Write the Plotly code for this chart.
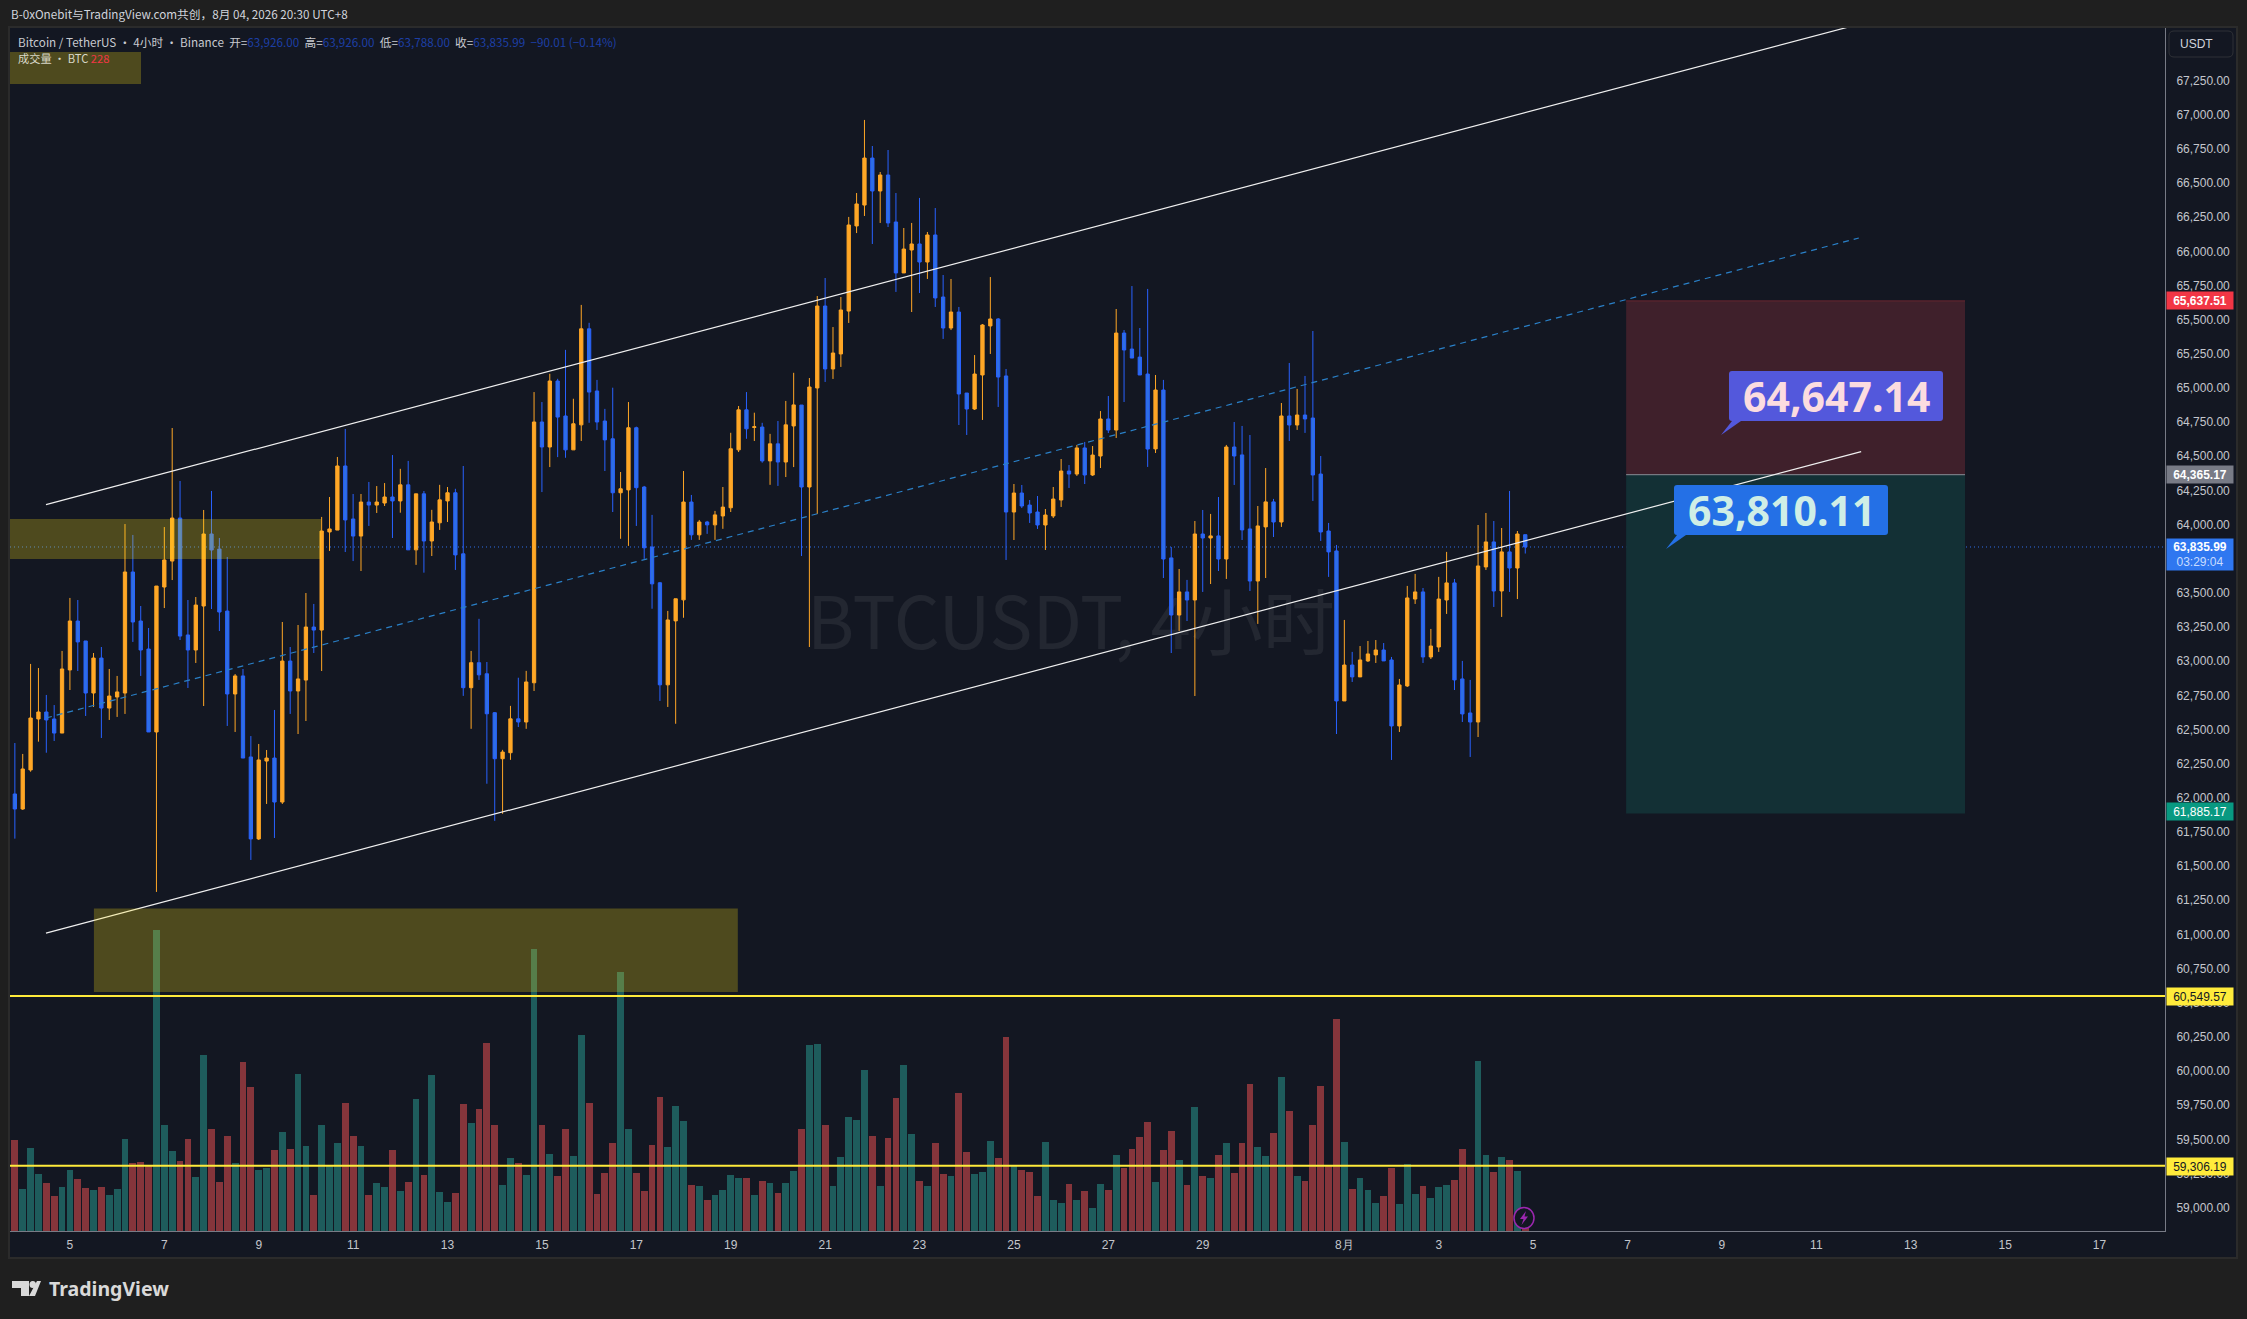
import pandas as pd
import plotly.graph_objects as go

# 4h candles, first bar 07-03 20:00 (UTC+8)
opens = [62028,61918,62204,62577,62628,62577,62474,62936,63294,63148,62767,63023,62657,62738,62767,63653,63294,63089,62482,63543,
         63733,64048,63192,63082,63404,63931,63821,63367,62760,62892,62299,61699,62269,62291,61969,63001,62782,62862,63250,63228,
         63946,63960,64429,64041,63916,64165,64143,64158,64202,64173,64291,63815,64225,63880,64013,64173,64233,63786,62806,62989,
         62908,62623,62286,62330,62578,62555,62842,64751,64568,65051,64795,64547,64730,65433,64978,64758,64628,64233,64254,64709,
         64275,63836,63574,62827,63295,63449,64165,63925,64019,63998,64063,64123,64547,64840,64711,64714,64466,64591,64458,64722,
         64875,64275,65000,65600,65139,65249,65563,66186,66339,66683,66442,66559,66215,65842,66010,66054,65922,66120,65666,65439,
         65556,64963,64846,65095,65454,65505,65088,64092,64231,64143,64092,63997,64063,64180,64392,64370,64561,64363,64502,64773,
         64692,65402,65285,65226,65102,64554,64985,63756,63338,63507,63448,63931,63902,63917,63748,64568,64510,63968,63587,63983,
         64166,64019,64795,64729,64802,64780,64370,63953,63807,62709,62972,62885,63002,63046,63082,63009,62526,62819,63455,63507,
         63031,63104,63448,63573,62870,62621,62555,63690,63873,63514,63800,63682,63926]
highs = [62401,62321,62980,62950,62753,62679,63075,63463,63448,63148,63060,63104,62943,62892,64004,63924,63404,63243,63550,63982,
         64707,64319,63448,63470,64107,64246,63902,63763,62906,62943,62452,62394,62350,62643,63287,63104,63265,63499,63419,64056,
         64202,64495,64700,64224,64224,64312,64282,64304,64509,64408,64466,64225,64246,64108,64291,64275,64262,64429,63075,63310,
         62994,62628,62351,62673,62879,62929,64970,64897,65104,65067,65279,64921,65608,65477,65059,64847,65002,64385,64897,64717,
         64283,64071,63580,63368,63457,64392,64217,64034,64027,64100,64275,64672,64868,64970,64819,64745,64664,64758,64905,65111,
         64875,65073,65673,65805,65446,65666,66252,66427,66962,66771,66581,66742,66427,66171,66208,66391,66142,66317,65827,65798,
         65593,64963,65241,65468,65812,65512,65139,64297,64290,64180,64209,64114,64275,64480,64436,64583,64605,64575,64831,64941,
         65578,65424,65746,65439,65725,65095,65059,63836,63675,63595,64026,64107,64078,64202,64583,64751,64722,64656,64136,64414,
         64188,64890,65183,64993,65088,65417,64502,64012,63851,63302,63068,63111,63148,63155,63133,63031,62870,63551,63639,63536,
         63236,63617,63800,63602,63002,62863,63997,64085,64026,63975,64246,63953,63926]
lows = [61701,61911,62191,62411,62330,62416,62474,62789,62928,62599,62665,62438,62570,62592,62614,63141,62892,62482,61311,63389,
        63594,63155,62804,62987,62672,63382,63221,62526,62482,62291,61545,61691,61955,61706,61955,62614,62467,62562,63060,62928,
        63807,63960,63799,63733,63660,63990,64085,64136,63902,64087,63815,63705,63648,63770,63961,64019,63668,62746,62505,62863,
        62103,61831,61883,62278,62518,62505,62782,64238,64421,64494,64489,64547,64612,64745,64693,64392,64092,63896,63844,63990,
        63749,63384,62709,62665,62542,63318,63888,63888,63932,63888,63969,64092,64531,64628,64612,64453,64291,64283,64348,64421,
        63770,63104,64078,65044,65066,65154,65476,66134,66259,66054,66208,66178,65703,65842,65556,65695,65798,65593,65359,65424,
        64729,64656,64839,64766,65249,64861,63741,63887,64121,64012,63968,63814,64048,64129,64268,64356,64297,64356,64414,64670,
        64634,64897,65219,65095,64422,64524,63609,63060,63221,63294,62745,63507,63565,63660,63602,64290,63887,63514,63273,63609,
        63909,63983,64612,64693,64671,64173,63880,63617,62467,62709,62848,62885,62994,62987,63002,62277,62482,62811,63419,62987,
        63016,63068,63346,62789,62555,62299,62445,63668,63397,63324,63507,63455,63788]
closes = [61918,62211,62584,62628,62570,62474,62943,63294,63141,62767,63023,62657,62745,62775,63653,63287,63082,62482,63550,63741,
          64048,63184,63082,63411,63931,63814,63360,62760,62892,62291,61699,62277,62291,61969,63001,62782,62870,63250,63228,63953,
          63968,64429,64034,63916,64165,64143,64165,64202,64173,64291,63815,64225,63880,64019,64181,64233,63778,62806,62989,62900,
          62615,62286,62335,62578,62555,62848,64751,64568,65051,64787,64547,64738,65433,64970,64751,64620,64233,64262,64709,64270,
          63830,63566,62827,63302,63457,64165,63925,64019,63998,64071,64128,64555,64840,64701,64716,64466,64591,64458,64730,64876,
          64275,65007,65600,65139,65256,65571,66193,66347,66683,66442,66559,66208,65842,66017,66054,65922,66120,65659,65439,65556,
          64956,64846,65102,65461,65505,65080,64092,64231,64136,64085,63997,64070,64187,64392,64370,64561,64363,64509,64773,64692,
          65402,65278,65219,65095,64553,64985,63748,63338,63507,63448,63931,63902,63917,63748,64568,64502,63961,63587,63990,64166,
          64019,64795,64729,64802,64773,64363,63946,63800,62709,62972,62885,63009,63053,63082,63002,62526,62826,63463,63507,63031,
          63111,63455,63573,62863,62614,62555,63697,63873,63514,63800,63682,63931,63835.99]
volumes = [7734,3570,7054,4844,4080,2975,3740,5184,4420,3655,3485,3740,3060,3570,7819,5779,5864,5609,25585,9009,
           6799,5949,7819,4589,14958,8669,4165,8074,5779,14363,12239,5184,5354,6884,8414,6969,13343,7224,3060,9009,
           5524,7479,10879,8074,7224,3060,4080,3740,6884,3400,4165,11219,4760,13258,3315,2465,3230,10794,9179,10369,
           15978,9009,3910,6204,5779,4760,23970,9009,6544,4675,8669,6374,16658,10879,3145,4929,7479,22015,8669,4929,
           3400,7309,11389,7139,10624,9349,3910,3825,2635,3060,3485,4760,4505,4505,3060,4250,4080,3230,4080,5099,
           8669,15808,15893,9009,3825,6289,9689,9434,13683,8074,3825,7904,11304,14108,8244,4250,3825,7479,4844,4675,
           11729,6714,4844,5014,7649,6204,16488,5524,5184,5014,2975,7564,2635,2380,3995,2635,3400,1955,3995,3485,
           6459,5354,6969,7989,9264,4165,6884,8499,6034,3910,10539,4675,4505,6459,7479,4929,7479,12494,7139,6374,
           8329,13088,10199,4675,4250,9009,12324,5524,18018,7564,3570,4505,3485,2380,2975,5354,2295,5694,3145,3825,
           2805,3740,3910,4335,6969,5524,14448,6459,5014,6289,6034,5099,228]
bar_times = pd.date_range("2026-07-03 20:00", periods=len(opens), freq="4h")

price_ticks = list(range(59000, 67251, 250))
date_ticks = ["2026-07-%02d" % d for d in range(5, 30, 2)] + ["2026-08-01"] + ["2026-08-%02d" % d for d in range(3, 18, 2)]
date_labels = [str(d) for d in range(5, 30, 2)] + ["8月"] + [str(d) for d in range(3, 18, 2)]

upper_x, upper_y = ["2026-07-04 11:50", "2026-08-12 13:30"], [64146, 67723]
mid_x, mid_y = ["2026-07-04 11:50", "2026-08-11 21:36"], [62584, 66098]
lower_x, lower_y = ["2026-07-04 11:50", "2026-08-11 22:48"], [61010, 64534]

last_price = 63835.99
target_price, entry_price, stop_price = 65637.51, 64365.17, 61885.17
level_a, level_b = 60549.57, 59306.19

FONT = "Liberation Sans"
BG = "#131722"
ORANGE = "#ffa726"
BLUE = "#2e6fe4"
YELLOW = "#ffeb3b"
TICK = "#c4c6cc"
LEFT_EDGE = "2026-07-03 17:32"


def px(x):  # page pixels to paper coordinates
    return (x - 10) / 2155


def py(y):
    return (1231 - y) / 1203


def box_path(x0, y0, x1, y1, r=3):
    a, b, c, d = px(x0), px(x1), py(y0), py(y1)
    rx, ry = r / 2155, r / 1203
    return (f"M {a+rx} {c} L {b-rx} {c} Q {b} {c} {b} {c-ry} L {b} {d+ry} Q {b} {d} {b-rx} {d} "
            f"L {a+rx} {d} Q {a} {d} {a} {d+ry} L {a} {c-ry} Q {a} {c} {a+rx} {c} Z")


def poly(points):
    return "M " + " L ".join(f"{px(x)} {py(y)}" for x, y in points) + " Z"


fig = go.Figure()

fig.add_trace(go.Bar(x=bar_times, y=volumes, width=4 * 3600 * 1000 * 0.86,
                     marker=dict(color=["#1e5c5c" if c >= o else "#85353b" for o, c in zip(opens, closes)], line_width=0),
                     xaxis="x", yaxis="y"))
fig.add_trace(go.Scatter(x=["2026-07-26 05:00"], y=[51000], mode="text", text=["BTCUSDT, 4小时"],
                         textfont=dict(family="Noto Sans CJK SC", size=72, color="rgba(255,255,255,0.07)"),
                         xaxis="x", yaxis="y"))
fig.add_trace(go.Candlestick(x=bar_times, open=opens, high=highs, low=lows, close=closes, xaxis="x", yaxis="y2",
                             increasing=dict(line=dict(color=ORANGE, width=1), fillcolor=ORANGE),
                             decreasing=dict(line=dict(color="#2962ff", width=1), fillcolor=BLUE),
                             whiskerwidth=0))
fig.add_trace(go.Scatter(x=upper_x, y=upper_y, mode="lines", line=dict(color="#f0f0f0", width=1.2), xaxis="x", yaxis="y2"))
fig.add_trace(go.Scatter(x=lower_x, y=lower_y, mode="lines", line=dict(color="#f0f0f0", width=1.2), xaxis="x", yaxis="y2"))
fig.add_trace(go.Scatter(x=mid_x, y=mid_y, mode="lines", line=dict(color="#2a80c8", width=1.2, dash="6px,5px"), xaxis="x", yaxis="y2"))

shapes = [
    # pane behind the plot and the two axes
    dict(type="rect", xref="paper", yref="paper", x0=px(9), x1=px(2237), y0=py(1258), y1=py(27), fillcolor=BG,
         line=dict(color="#2b2b2b", width=2), layer="below"),
    # position tool
    dict(type="rect", xref="x", yref="y2", x0="2026-08-06 23:17", x1="2026-08-14 03:36", y0=entry_price, y1=target_price,
         fillcolor="#3f202b", line_width=0, layer="below"),
    dict(type="rect", xref="x", yref="y2", x0="2026-08-06 23:17", x1="2026-08-14 03:36", y0=stop_price, y1=entry_price,
         fillcolor="#133035", line_width=0, layer="below"),
    dict(type="line", xref="x", yref="y2", x0="2026-08-06 23:17", x1="2026-08-14 03:36", y0=target_price, y1=target_price,
         line=dict(color="#6b2530", width=1), layer="below"),
    dict(type="line", xref="x", yref="y2", x0="2026-08-06 23:17", x1="2026-08-14 03:36", y0=entry_price, y1=entry_price,
         line=dict(color="#8b8d96", width=1), layer="below"),
    dict(type="line", xref="paper", yref="y2", x0=0, x1=1, y0=last_price, y1=last_price,
         line=dict(color="#2f6fe8", width=1, dash="1px,3px"), layer="below"),
    # yellow zones sit over the candles
    dict(type="rect", xref="x", yref="y2", x0=LEFT_EDGE, x1="2026-07-10 07:40", y0=63748, y1=64041,
         fillcolor="rgba(255,228,20,0.25)", line_width=0),
    dict(type="rect", xref="x", yref="y2", x0="2026-07-05 12:12", x1="2026-07-19 03:36", y0=60579, y1=61189,
         fillcolor="rgba(255,228,20,0.25)", line_width=0),
    dict(type="rect", xref="x", yref="y2", x0=LEFT_EDGE, x1="2026-07-06 12:09", y0=67225, y1=67459,
         fillcolor="rgba(255,228,20,0.25)", line_width=0),
    dict(type="line", xref="paper", yref="y2", x0=0, x1=1, y0=level_a, y1=level_a, line=dict(color=YELLOW, width=2)),
    dict(type="line", xref="paper", yref="y2", x0=0, x1=1, y0=level_b, y1=level_b, line=dict(color=YELLOW, width=2)),
    # price bubbles
    dict(type="path", xref="paper", yref="paper", path=box_path(1729, 371, 1943, 421), fillcolor="#5358dc", line_width=0),
    dict(type="path", xref="paper", yref="paper", path=poly([(1721, 435), (1732, 421), (1741, 421)]), fillcolor="#5358dc", line_width=0),
    dict(type="path", xref="paper", yref="paper", path=box_path(1674, 485, 1888, 535), fillcolor="#2470e6", line_width=0),
    dict(type="path", xref="paper", yref="paper", path=poly([(1666, 549), (1677, 535), (1686, 535)]), fillcolor="#2470e6", line_width=0),
    # scale button
    dict(type="path", xref="paper", yref="paper", path=box_path(2169, 31, 2233, 57, 5), fillcolor=BG,
         line=dict(color="#2f3136", width=1)),
    # lightning mark
    dict(type="circle", xref="paper", yref="paper", x0=px(1514), x1=px(1534), y0=py(1228.5), y1=py(1207.5), fillcolor=BG,
         line=dict(color="#9c27b0", width=1.5)),
    dict(type="path", xref="paper", yref="paper", path=poly([(1526, 1211), (1520, 1219), (1523.5, 1219), (1521.5, 1225), (1528, 1216.5), (1524.5, 1216.5)]),
         fillcolor="#9c27b0", line_width=0),
    # TradingView mark
    dict(type="path", xref="paper", yref="paper", path=poly([(12, 1281), (29, 1281), (29, 1296), (21, 1296), (21, 1288), (12, 1288)]),
         fillcolor="#d9d9d9", line_width=0),
    dict(type="circle", xref="paper", yref="paper", x0=px(29.5), x1=px(36), y0=py(1288), y1=py(1281), fillcolor="#d9d9d9", line_width=0),
    dict(type="path", xref="paper", yref="paper", path=poly([(37, 1281), (41, 1281), (35, 1296), (29, 1296)]),
         fillcolor="#d9d9d9", line_width=0),
]

annotations = []


def note(x, y, text, size=12, color="#d1d4dc", family=FONT, anchor="left", **kw):
    annotations.append(dict(xref="paper", yref="paper", x=px(x), y=py(y), text=text, showarrow=False, xanchor=anchor,
                            yanchor="middle", font=dict(family=family, size=size, color=color), **kw))


def price_tag(y, text, bg, color="#ffffff", h=13):
    annotations.append(dict(xref="paper", yref="paper", x=px(2166), y=py(y), text=text, showarrow=False, xanchor="left",
                            yanchor="middle", align="center", width=62, height=h, borderpad=2, bgcolor=bg,
                            font=dict(family=FONT, size=12, color=color)))


CJK = "Noto Sans CJK SC"
note(9, 14, "B-0xOnebit与TradingView.com共创，8月 04, 2026 20:30 UTC+8", size=11.7, family=CJK, color="#d1d4dc")
dark = "#1d3fa5"
note(16, 42, "Bitcoin / TetherUS · 4小时 · Binance\u00a0\u00a0开="
     f"<span style='color:{dark}'>63,926.00</span>\u00a0\u00a0高=<span style='color:{dark}'>63,926.00</span>\u00a0\u00a0低="
     f"<span style='color:{dark}'>63,788.00</span>\u00a0\u00a0收=<span style='color:{dark}'>63,835.99</span>\u00a0\u00a0"
     f"<span style='color:{dark}'>−90.01 (−0.14%)</span>", size=11.7, family=CJK, color="#c8cad0")
note(16, 58, "成交量 · BTC\u00a0<span style='color:#f23645'>228</span>", size=11.2, family=CJK, color="#d8d8c8")
note(1836, 396, "<b>64,647.14</b>", size=41, color="#fbdce0", family="Noto Sans", anchor="center")
note(1781, 510, "<b>63,810.11</b>", size=41, color="#cfeee6", family="Noto Sans", anchor="center")
note(2178, 44, "USDT", size=12)
note(47, 1288, "<b>TradingView</b>", size=19.5, color="#d9d9d9", family="Noto Sans")

price_tag(300, "<b>65,637.51</b>", "#f23645")
price_tag(474, "<b>64,365.17</b>", "#787b86")
price_tag(554.5, "<b>63,835.99</b><br><span style='color:#c8dcff'>03:29:04</span>", "#2f77f0", h=27)
price_tag(811, "61,885.17", "#089981")
price_tag(996, "60,549.57", YELLOW, color="#131722")
price_tag(1166, "59,306.19", YELLOW, color="#131722")

fig.update_layout(
    width=2247, height=1319, showlegend=False, paper_bgcolor="#1f1f1f", plot_bgcolor=BG,
    margin=dict(l=10, r=82, t=28, b=88), boxgap=0.4, bargap=0, hovermode=False,
    shapes=shapes, annotations=annotations,
    xaxis=dict(type="date", range=[LEFT_EDGE, "2026-08-18 09:17"], rangeslider_visible=False, showgrid=False,
               zeroline=False, tickmode="array", tickvals=date_ticks, ticktext=date_labels, ticks="", showline=True,
               linecolor="#787b86", linewidth=1, ticklabelstandoff=3, tickfont=dict(family=FONT, size=12, color=TICK)),
    yaxis=dict(range=[0, 102255], visible=False, showgrid=False, zeroline=False),
    yaxis2=dict(range=[58829, 67635], overlaying="y", side="right", anchor="x", showgrid=False, zeroline=False,
                tickmode="array", tickvals=price_ticks, tickformat=",.2f", ticks="", showline=True, linecolor="#787b86",
                linewidth=1, ticklabelstandoff=8, tickfont=dict(family=FONT, size=12, color=TICK)),
)

# the page's default body margin would push the figure off by 8px
fig.write_html("out.html", config=dict(displayModeBar=False),
               post_script="document.body.style.margin='0';document.documentElement.style.overflow='hidden';")
